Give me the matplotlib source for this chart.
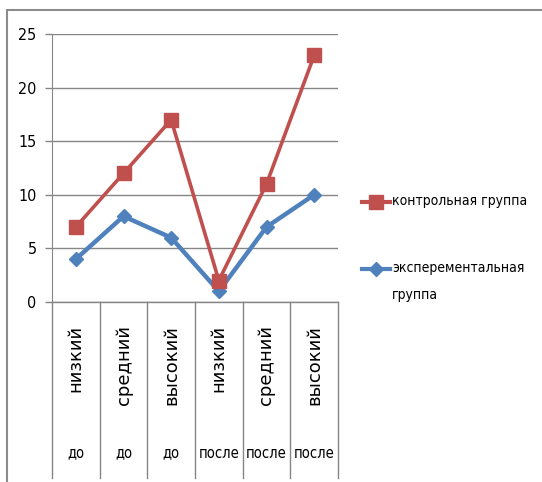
import matplotlib.pyplot as plt
from matplotlib.lines import Line2D
from matplotlib.patches import Rectangle

# data
levels = ['низкий', 'средний', 'высокий', 'низкий', 'средний', 'высокий']
stages = ['до', 'до', 'до', 'после', 'после', 'после']
control = [7, 12, 17, 2, 11, 23]
experiment = [4, 8, 6, 1, 7, 10]
series_names = ['контрольная группа', 'эксперементальная\nгруппа']
yticks = [0, 5, 10, 15, 20, 25]

red = '#C0504D'
blue = '#4F81BD'
grey = '#868686'
cond = dict(family='DejaVu Sans', stretch='condensed')

W, H = 542, 482
fig = plt.figure(figsize=(W / 100, H / 100), dpi=100)

# outer chart frame (runs off the right and bottom edge)
fig.add_artist(Rectangle((7 / W, -0.05), 1.0, 1 - 10 / H + 0.05,
                         transform=fig.transFigure, fill=False,
                         edgecolor='#8c8c8c', lw=1.5))

ax = fig.add_axes([52 / W, 1 - 302 / H, (338 - 52) / W, (302 - 34) / H])
x = list(range(len(levels)))

ax.set_xlim(-0.5, len(levels) - 0.5)
ax.set_ylim(0, 25)
ax.set_yticks(yticks)
ax.set_yticklabels([str(t) for t in yticks], fontsize=11.5, **cond)
ax.tick_params(axis='y', length=5, width=1, color=grey, pad=6)
ax.set_xticks([])
ax.grid(axis='y', color=grey, lw=1)
ax.set_axisbelow(True)
for s in ['top', 'right', 'bottom']:
    ax.spines[s].set_visible(False)
ax.spines['left'].set_color(grey)
ax.axhline(0, color=grey, lw=1, clip_on=False, zorder=1)

ax.plot(x, experiment, color=blue, lw=3.2, marker='D', ms=7, zorder=3)
ax.plot(x, control, color=red, lw=2.6, marker='s', ms=10, zorder=4)

# category axis with two levels
tr = ax.get_xaxis_transform()
low = -(478 - 302) / (302 - 34)
for b in range(len(levels) + 1):
    ax.plot([b - 0.5, b - 0.5], [0, low], color=grey, lw=1,
            transform=tr, clip_on=False)
for i in x:
    ax.text(i, -(325 - 302) / (302 - 34), levels[i], transform=tr,
            rotation=90, ha='center', va='top', fontsize=13,
            family='DejaVu Sans')
    ax.text(i, -(453 - 302) / (302 - 34), stages[i], transform=tr,
            ha='center', va='center', fontsize=10.5, **cond)

# legend drawn by hand
entries = [(red, 's', 10, series_names[0], 202),
           (blue, 'D', 7, series_names[1], 269)]
for col, mk, ms, name, yy in entries:
    yf = 1 - yy / H
    fig.add_artist(Line2D([362 / W, 390 / W], [yf, yf], color=col, lw=3,
                          transform=fig.transFigure))
    fig.add_artist(Line2D([376 / W], [yf], color=col, marker=mk, ms=ms,
                          transform=fig.transFigure))
    fig.text(392 / W, yf + 8 / H, name, ha='left', va='top', fontsize=10,
             linespacing=2.2, transform=fig.transFigure, **cond)

fig.savefig('out.png', dpi=100)
